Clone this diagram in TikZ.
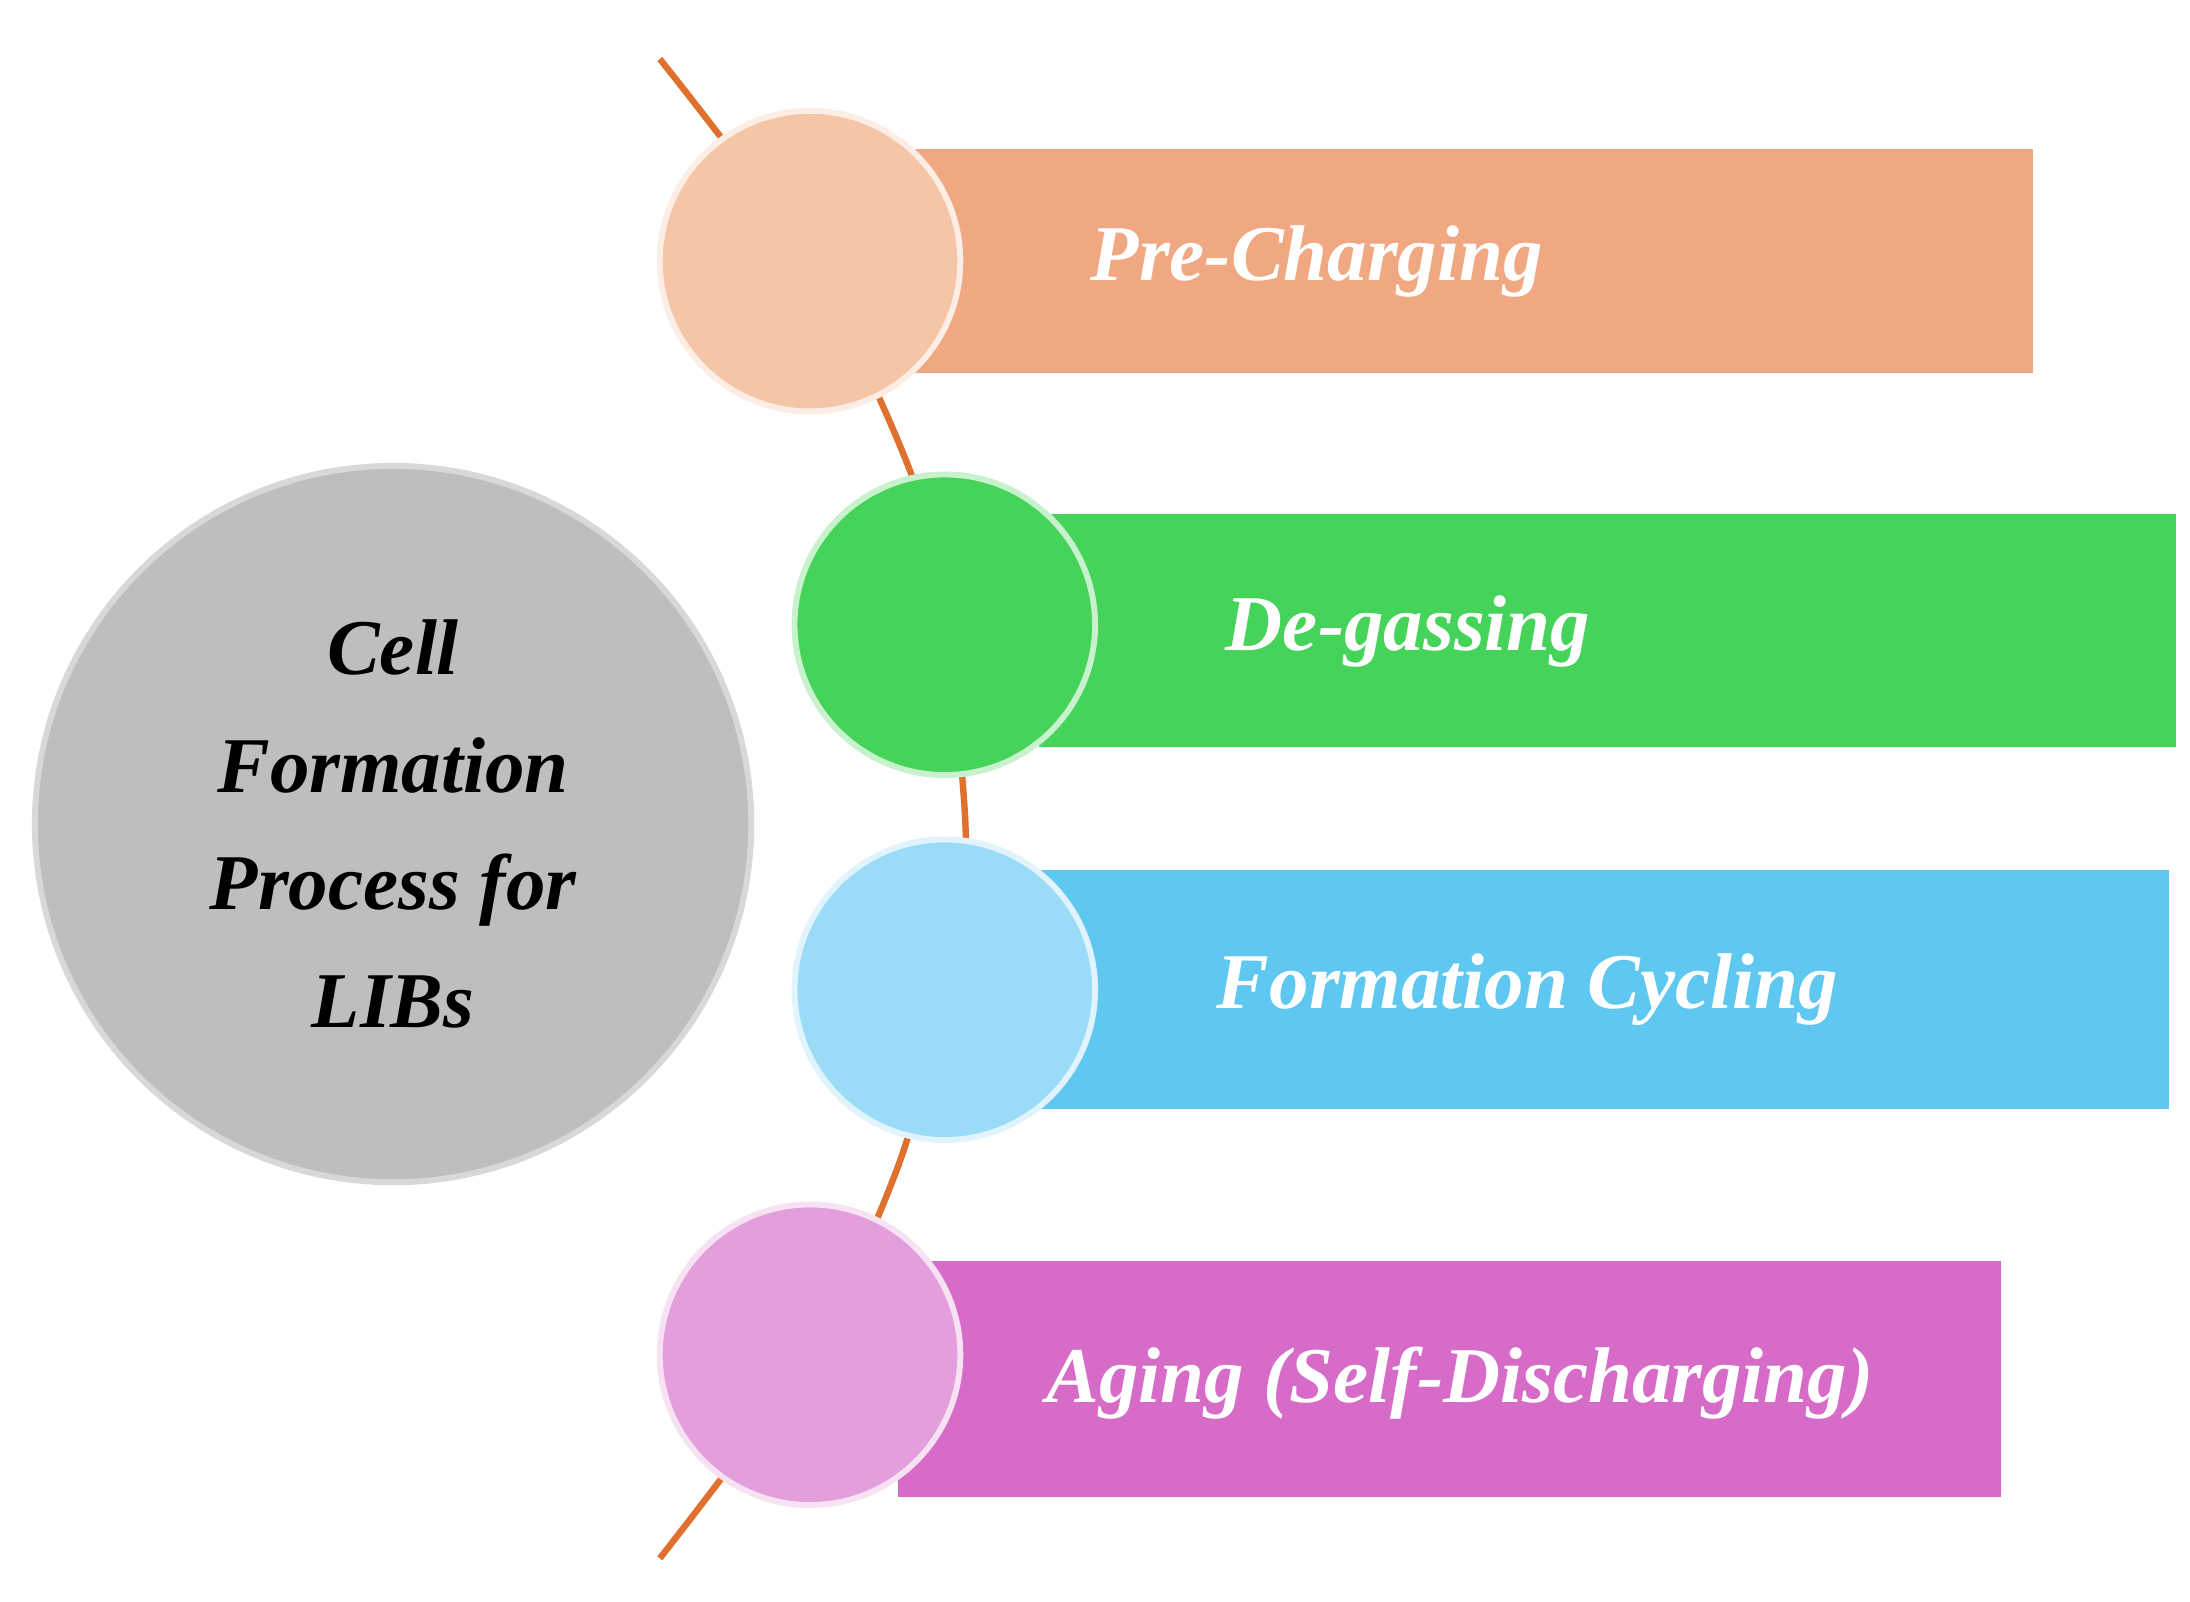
\documentclass[tikz,border=0pt]{standalone}
\usepackage{fontspec}
\setmainfont{Liberation Serif}
\definecolor{pathline}{HTML}{E0702E}
\definecolor{barA}{HTML}{F0A882}\definecolor{dotA}{HTML}{F5C5A8}
\definecolor{barB}{HTML}{45D35A}\definecolor{dotB}{HTML}{45D35A}
\definecolor{barC}{HTML}{5FC8F0}\definecolor{dotC}{HTML}{9ADBF7}
\definecolor{barD}{HTML}{D66CC8}\definecolor{dotD}{HTML}{E39EDC}
\definecolor{hub}{HTML}{BEBEBE}
\tikzset{
  dot/.style={circle,minimum size=2.14cm,inner sep=0pt,draw=white!70!#1,line width=1.2pt,fill=#1},
  stage/.style={text=white,font=\fontsize{16}{19}\selectfont\bfseries\itshape},
}
\begin{document}
\begin{tikzpicture}[x=0.01cm,y=-0.01cm]
	\useasboundingbox (0,0) rectangle (1560,1141);
	% timeline
	\draw[pathline,line width=1.3pt] plot[smooth] coordinates {(470,42) (577,186) (650,340) (673,445) (688,600) (673,705) (640,830) (577,965) (470,1110)};
	% bars
	\fill[barA] (640,106) rectangle (1448,266);
	\fill[barB] (740,366) rectangle (1550,532);
	\fill[barC] (740,620) rectangle (1545,790);
	\fill[barD] (640,898) rectangle (1425,1066);
	% dots
	\node[dot=dotA] (d1) at (577,186) {};
	\node[dot=dotB] (d2) at (673,445) {};
	\node[dot=dotC] (d3) at (673,705) {};
	\node[dot=dotD] (d4) at (577,965) {};
	% labels
	\node[stage] (s1) at (938,186) {Pre-Charging};
	\node[stage] (s2) at (1003,450) {De-gassing};
	\node[stage] (s3) at (1088,705) {Formation Cycling};
	\node[stage] (s4) at (1040,985) {Aging (Self-Discharging)};
	% hub
	\node[circle,minimum size=5.1cm,fill=hub,draw=hub!60!white,line width=1.2pt,align=center,
	  font=\fontsize{16}{19}\selectfont\bfseries\itshape] (hub) at (280,587)
	  {Cell\\[0.17cm]Formation\\[0.17cm]Process for\\[0.17cm]LIBs};
\end{tikzpicture}
\end{document}
